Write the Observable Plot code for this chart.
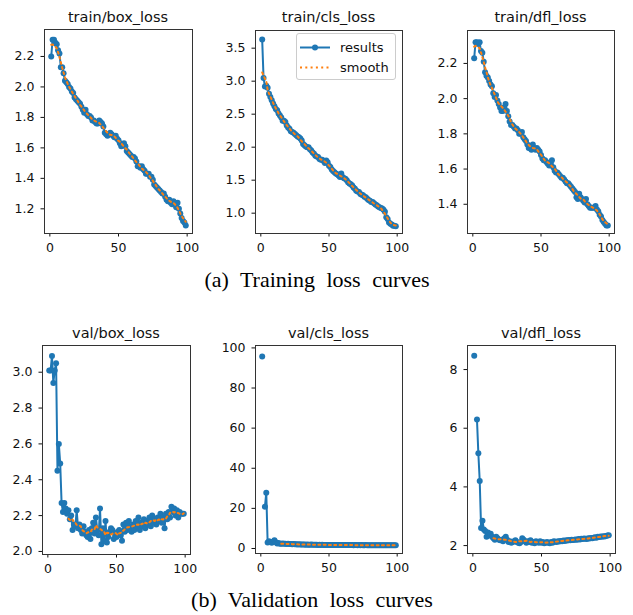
<!DOCTYPE html>
<html>
<head>
<meta charset="utf-8">
<script src="https://cdn.jsdelivr.net/npm/d3@7"></script>
<script src="https://cdn.jsdelivr.net/npm/@observablehq/plot@0.6"></script>
<style>
  html, body { margin: 0; padding: 0; background: #fff; }
  #wrap { position: relative; width: 633px; height: 615px; background: #fff; overflow: hidden; }
  #wrap > svg.panel { position: absolute; }
  #overlay { position: absolute; left: 0; top: 0; pointer-events: none; }
</style>
</head>
<body>
<div id="wrap"></div>
<script>
// ---- data ----
const epochs = d3.range(1, 100);

const trainBoxLoss = [2.20,2.31,2.31,2.29,2.28,2.24,2.22,2.13,2.13,2.09,
  2.04,2.03,2.02,2.00,1.99,1.97,1.96,1.93,1.92,1.91,
  1.90,1.89,1.87,1.85,1.83,1.85,1.82,1.81,1.81,1.80,
  1.78,1.78,1.77,1.76,1.76,1.78,1.77,1.76,1.74,1.70,
  1.69,1.68,1.69,1.70,1.69,1.68,1.67,1.68,1.66,1.65,
  1.63,1.61,1.62,1.63,1.61,1.58,1.57,1.56,1.55,1.54,
  1.54,1.53,1.51,1.48,1.48,1.47,1.48,1.46,1.45,1.43,
  1.43,1.43,1.41,1.41,1.39,1.36,1.35,1.34,1.33,1.32,
  1.31,1.30,1.30,1.28,1.26,1.25,1.26,1.24,1.23,1.25,
  1.24,1.21,1.24,1.20,1.17,1.14,1.12,1.11,1.09];

const trainClsLoss = [3.63,3.05,2.92,2.93,2.90,2.81,2.76,2.71,2.66,2.62,
  2.58,2.56,2.51,2.48,2.45,2.40,2.40,2.38,2.33,2.30,
  2.28,2.24,2.23,2.22,2.20,2.18,2.16,2.15,2.13,2.10,
  2.05,2.03,2.01,2.00,2.00,1.97,1.95,1.92,1.90,1.87,
  1.86,1.85,1.82,1.81,1.81,1.79,1.76,1.80,1.77,1.72,
  1.70,1.66,1.64,1.62,1.60,1.59,1.57,1.55,1.60,1.55,
  1.53,1.52,1.50,1.47,1.45,1.44,1.42,1.39,1.37,1.34,
  1.33,1.32,1.29,1.28,1.27,1.25,1.24,1.22,1.20,1.19,
  1.17,1.17,1.15,1.13,1.12,1.10,1.09,1.08,1.07,1.05,
  1.02,0.94,0.91,0.86,0.84,0.83,0.81,0.81,0.80];

const trainDflLoss = [2.23,2.32,2.32,2.31,2.32,2.27,2.26,2.21,2.15,2.13,
  2.12,2.10,2.08,2.07,2.03,2.01,2.02,1.99,1.97,1.95,
  1.93,1.93,1.95,1.97,1.93,1.90,1.87,1.85,1.85,1.84,
  1.83,1.83,1.82,1.80,1.80,1.81,1.78,1.77,1.76,1.74,
  1.72,1.72,1.71,1.74,1.72,1.71,1.72,1.71,1.70,1.68,
  1.66,1.65,1.65,1.64,1.63,1.62,1.63,1.65,1.61,1.59,
  1.58,1.58,1.57,1.56,1.55,1.55,1.54,1.53,1.52,1.52,
  1.51,1.50,1.49,1.48,1.47,1.44,1.43,1.46,1.44,1.43,
  1.42,1.41,1.43,1.40,1.39,1.38,1.38,1.38,1.38,1.39,
  1.37,1.36,1.34,1.33,1.31,1.30,1.29,1.28,1.28];

const valBoxLoss = [3.01,3.01,3.09,2.94,3.01,3.05,2.45,2.60,2.49,2.27,
  2.22,2.27,2.24,2.21,2.23,2.18,2.20,2.12,2.15,2.14,
  2.23,2.13,2.15,2.12,2.10,2.14,2.11,2.09,2.08,2.12,
  2.07,2.13,2.16,2.10,2.19,2.12,2.09,2.24,2.04,2.13,
  2.06,2.17,2.05,2.08,2.11,2.13,2.12,2.07,2.10,2.08,
  2.11,2.12,2.09,2.06,2.15,2.11,2.16,2.12,2.17,2.13,
  2.11,2.15,2.12,2.17,2.14,2.19,2.12,2.16,2.14,2.18,
  2.13,2.17,2.15,2.19,2.14,2.20,2.16,2.18,2.15,2.19,
  2.17,2.21,2.16,2.19,2.13,2.21,2.18,2.22,2.19,2.25,
  2.22,2.24,2.20,2.23,2.19,2.22,2.21,2.21,2.21];

const valClsLoss = [95.7,null,20.8,27.8,3.0,3.6,3.2,2.9,3.3,4.1,
  3.1,2.5,2.7,2.3,2.4,2.5,2.3,2.3,2.2,2.3,
  2.2,2.2,2.1,2.2,2.1,2.1,2.0,2.1,2.0,2.0,
  2.0,2.0,1.9,2.0,1.9,1.9,2.0,1.9,1.9,1.9,
  1.9,1.8,1.9,1.8,1.9,1.8,1.8,1.8,1.8,1.8,
  1.8,1.8,1.7,1.8,1.8,1.7,1.8,1.7,1.7,1.7,
  1.7,1.7,1.7,1.7,1.7,1.7,1.7,1.6,1.7,1.7,
  1.6,1.7,1.6,1.7,1.6,1.6,1.7,1.6,1.6,1.6,
  1.6,1.6,1.6,1.6,1.6,1.6,1.6,1.6,1.6,1.6,
  1.6,1.6,1.6,1.6,1.6,1.6,1.6,1.6,1.6];

const valDflLoss = [8.47,null,6.30,5.15,4.20,2.60,2.85,2.55,2.50,2.30,
  2.45,2.35,2.40,2.30,2.25,2.20,2.30,2.25,2.20,2.18,
  2.20,2.15,2.25,2.30,2.20,2.12,2.15,2.10,2.12,2.15,
  2.18,2.12,2.10,2.08,2.12,2.25,2.20,2.15,2.10,2.15,
  2.12,2.18,2.10,2.12,2.08,2.15,2.12,2.10,2.15,2.10,
  2.12,2.08,2.10,2.12,2.10,2.08,2.12,2.10,2.15,2.13,
  2.12,2.15,2.14,2.16,2.15,2.17,2.16,2.18,2.17,2.19,
  2.18,2.20,2.19,2.20,2.21,2.20,2.22,2.21,2.23,2.22,
  2.24,2.23,2.22,2.25,2.24,2.26,2.25,2.27,2.28,2.27,
  2.30,2.29,2.31,2.30,2.32,2.31,2.33,2.34,2.35];

const xTicks = [0, 50, 100];
const titles = ["train/box_loss","train/cls_loss","train/dfl_loss","val/box_loss","val/cls_loss","val/dfl_loss"];
const captions = ["(a) Training loss curves", "(b) Validation loss curves"];
const legendLabels = ["results", "smooth"];

// ---- layout ----
const BLUE = "#1f77b4", ORANGE = "#ff7f0e";
const ML = 50, MT = 5, MR = 10, MB = 30;

const panels = [
  {title: titles[0], values: trainBoxLoss, y: [1.038, 2.377], ticks: [1.2,1.4,1.6,1.8,2.0,2.2], fmt: ".1f", from: 1, fx: 44, fy: 29, fw: 148, fh: 204},
  {title: titles[1], values: trainClsLoss, y: [0.692, 3.768], ticks: [1.0,1.5,2.0,2.5,3.0,3.5], fmt: ".1f", from: 1, fx: 255, fy: 30, fw: 147, fh: 203},
  {title: titles[2], values: trainDflLoss, y: [1.234, 2.387], ticks: [1.4,1.6,1.8,2.0,2.2], fmt: ".1f", from: 1, fx: 467, fy: 30, fw: 147, fh: 203},
  {title: titles[3], values: valBoxLoss, y: [1.983, 3.149], ticks: [2.0,2.2,2.4,2.6,2.8,3.0], fmt: ".1f", from: 15, fx: 42, fy: 345, fw: 148, fh: 209},
  {title: titles[4], values: valClsLoss, y: [-2.5, 101.2], ticks: [0,20,40,60,80,100], fmt: "d", from: 15, fx: 255, fy: 345, fw: 147, fh: 208},
  {title: titles[5], values: valDflLoss, y: [1.73, 8.82], ticks: [2,4,6,8], fmt: "d", from: 15, fx: 467, fy: 345, fw: 148, fh: 208}
];

const wrap = document.getElementById("wrap");

for (const p of panels) {
  const rows = epochs.map((e, i) => ({epoch: e, value: p.values[i]}));
  const smoothRows = rows.filter(d => d.epoch >= p.from && d.value != null);
  const chart = Plot.plot({
    width: p.fw + ML + MR,
    height: p.fh + MT + MB,
    marginLeft: ML, marginTop: MT, marginRight: MR, marginBottom: MB,
    style: {fontFamily: "DejaVu Sans", fontSize: "12.5px", color: "#111", background: "transparent", overflow: "visible"},
    x: {domain: [-3.9, 103.9], ticks: xTicks, tickSize: 3.5, tickPadding: 6.5, tickFormat: "d", label: null},
    y: {domain: p.y, ticks: p.ticks, tickSize: 3.5, tickPadding: 6.5, tickFormat: p.fmt, label: null},
    marks: [
      Plot.line(rows, {x: "epoch", y: "value", stroke: BLUE, strokeWidth: 2}),
      Plot.dot(rows.filter(d => d.value != null), {x: "epoch", y: "value", r: 3, fill: BLUE, stroke: "none"}),
      Plot.line(smoothRows, Plot.windowY({k: 7, anchor: "middle"}, {x: "epoch", y: "value", stroke: ORANGE, strokeWidth: 2, strokeDasharray: "2,3.3"})),
      Plot.frame({stroke: "#333", strokeWidth: 1})
    ]
  });
  chart.classList.add("panel");
  chart.style.left = (p.fx - ML) + "px";
  chart.style.top = (p.fy - MT) + "px";
  wrap.appendChild(chart);
}

// ---- overlay: titles, legend, captions ----
const svg = d3.select(wrap).append("svg").attr("id", "overlay")
  .attr("width", 633).attr("height", 615)
  .style("font-family", "DejaVu Sans");

svg.selectAll("text.title").data(panels).join("text")
  .attr("class", "title")
  .attr("x", p => p.fx + p.fw / 2)
  .attr("y", (p, i) => i < 3 ? 21.5 : 337.5)
  .attr("text-anchor", "middle")
  .attr("font-size", 14.5)
  .attr("fill", "#111")
  .text(p => p.title);

// legend in train/cls_loss
const lg = svg.append("g");
lg.append("rect").attr("x", 296.5).attr("y", 33.5).attr("width", 99).attr("height", 46)
  .attr("rx", 2.5).attr("fill", "white").attr("fill-opacity", 0.85).attr("stroke", "#ccc");
lg.append("line").attr("x1", 300).attr("x2", 330).attr("y1", 47.5).attr("y2", 47.5)
  .attr("stroke", BLUE).attr("stroke-width", 2);
lg.append("circle").attr("cx", 315).attr("cy", 47.5).attr("r", 3).attr("fill", BLUE);
lg.append("line").attr("x1", 300).attr("x2", 330).attr("y1", 67.5).attr("y2", 67.5)
  .attr("stroke", ORANGE).attr("stroke-width", 2).attr("stroke-dasharray", "2,3.3");
lg.selectAll("text").data(legendLabels).join("text")
  .attr("x", 340).attr("y", (d, i) => 47.5 + i * 20).attr("dy", "0.35em")
  .attr("font-size", 13).attr("fill", "#111").text(d => d);

svg.selectAll("text.caption").data(captions).join("text")
  .attr("class", "caption")
  .attr("x", (d, i) => i === 0 ? 317 : 312)
  .attr("y", (d, i) => i === 0 ? 287 : 607)
  .attr("text-anchor", "middle")
  .attr("font-family", "Liberation Serif")
  .attr("font-size", 22)
  .attr("word-spacing", "6px")
  .attr("fill", "#000")
  .text(d => d);
</script>
</body>
</html>
